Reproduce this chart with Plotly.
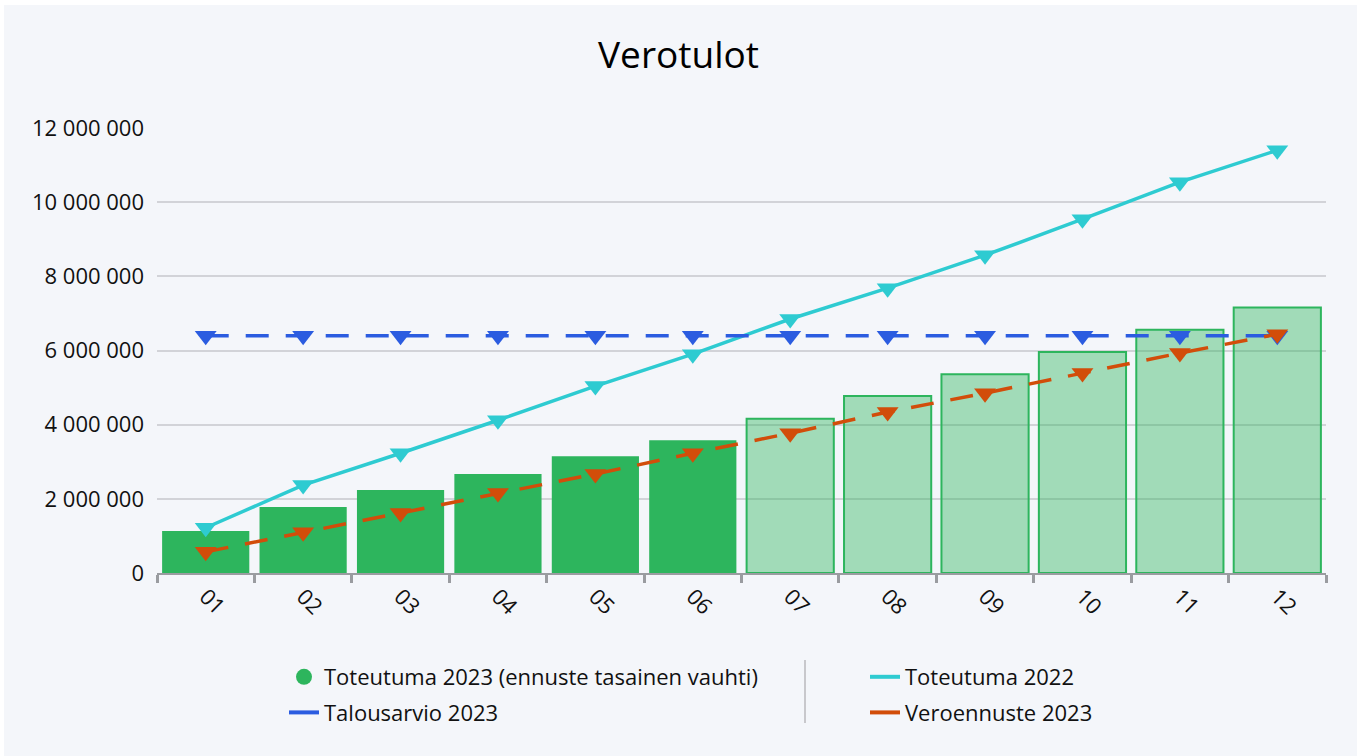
import plotly.graph_objects as go

months = ["01", "02", "03", "04", "05", "06", "07", "08", "09", "10", "11", "12"]
toteutuma_2023 = [1130000, 1780000, 2240000, 2670000, 3150000, 3580000,
                  4160000, 4770000, 5360000, 5960000, 6560000, 7160000]
toteutuma_2022 = [1220000, 2370000, 3230000, 4120000, 5040000, 5900000,
                  6850000, 7680000, 8570000, 9540000, 10540000, 11400000]
talousarvio_2023 = [6400000] * 12
veroennuste_2023 = [570000, 1100000, 1620000, 2160000, 2670000, 3230000,
                    3770000, 4340000, 4850000, 5390000, 5930000, 6440000]
actual_months = 6  # months 01-06 are actuals, rest forecast

GREEN = "#2db55d"
GREEN_LIGHT = "rgba(45,181,93,0.42)"
CYAN = "#2ecbd1"
BLUE = "#2b5ce0"
ORANGE = "#d24d0a"
BG = "#f4f6fa"
FONT = "Open Sans"

# plot area in pixels
W, H = 1357, 756
L, R, T, B = 157, 1326, 128, 573
pw, ph = R - L, B - T

def px_x(x):
    return (x - L) / pw

def px_y(y):
    return (B - y) / ph

bar_colors = [GREEN if i < actual_months else GREEN_LIGHT for i in range(len(months))]
bar_lw = [0 if i < actual_months else 2 for i in range(len(months))]

fig = go.Figure()

fig.add_trace(go.Bar(
    x=months, y=toteutuma_2023, name="Toteutuma 2023 (ennuste tasainen vauhti)",
    marker=dict(color=bar_colors, line=dict(color=GREEN, width=bar_lw)),
    showlegend=False,
))
fig.add_trace(go.Scatter(
    x=months, y=toteutuma_2022, name="Toteutuma 2022", mode="lines+markers",
    line=dict(color=CYAN, width=3.5),
    marker=dict(symbol="triangle-down", size=19, color=CYAN),
    showlegend=False,
))
fig.add_trace(go.Scatter(
    x=months, y=talousarvio_2023, name="Talousarvio 2023", mode="lines+markers",
    line=dict(color=BLUE, width=3.5, dash="23px,17px"),
    marker=dict(symbol="triangle-down", size=19, color=BLUE),
    showlegend=False,
))
fig.add_trace(go.Scatter(
    x=months, y=veroennuste_2023, name="Veroennuste 2023", mode="lines+markers",
    line=dict(color=ORANGE, width=3.5, dash="23px,17px"),
    marker=dict(symbol="triangle-down", size=19, color=ORANGE),
    showlegend=False,
))

# legend entries
fig.add_trace(go.Scatter(
    x=[None], y=[None], mode="markers", name="Toteutuma 2023 (ennuste tasainen vauhti)",
    marker=dict(symbol="circle", size=20, color=GREEN), legend="legend", legendgroup="a",
))
fig.add_trace(go.Scatter(
    x=[None], y=[None], mode="lines", name="Talousarvio 2023",
    line=dict(color=BLUE, width=4), legend="legend", legendgroup="b",
))
fig.add_trace(go.Scatter(
    x=[None], y=[None], mode="lines", name="Toteutuma 2022",
    line=dict(color=CYAN, width=4), legend="legend2", legendgroup="c",
))
fig.add_trace(go.Scatter(
    x=[None], y=[None], mode="lines", name="Veroennuste 2023",
    line=dict(color=ORANGE, width=4), legend="legend2", legendgroup="d",
))

legend_common = dict(
    orientation="v", xanchor="left", yanchor="top",
    font=dict(family=FONT, size=22, color="#111"),
    bgcolor="rgba(0,0,0,0)", traceorder="grouped", tracegroupgap=4,
    itemclick=False, itemwidth=30,
)

fig.update_layout(
    width=W, height=H,
    margin=dict(l=L, r=W - R, t=T, b=H - B, pad=0),
    paper_bgcolor="white",
    plot_bgcolor="rgba(0,0,0,0)",
    font=dict(family=FONT, size=22, color="#111"),
    separators=", ",
    title=dict(text="Verotulot", x=0.5, xanchor="center", y=1 - 55 / H, yanchor="middle",
               font=dict(family=FONT, size=37, color="#000")),
    bargap=0.105,
    xaxis=dict(
        type="category", range=[-0.5, 11.5], tickangle=45, tickson="boundaries",
        ticks="outside", ticklen=8, tickwidth=3, tickcolor="#9a9ca0",
        showline=True, linecolor="#9a9ca0", linewidth=2,
        showgrid=False, tickfont=dict(family=FONT, size=22, color="#111"),
        fixedrange=True,
    ),
    yaxis=dict(
        range=[0, 12000000], tickvals=[0, 2000000, 4000000, 6000000, 8000000, 10000000, 12000000],
        tickformat=",d", showgrid=True, gridcolor="#d2d3d8", gridwidth=1.5,
        zeroline=False, showline=False, ticks="", ticklabelstandoff=12,
        tickfont=dict(family=FONT, size=22, color="#111"), fixedrange=True,
    ),
    legend=dict(x=px_x(284), y=px_y(656), **legend_common),
    legend2=dict(x=px_x(865), y=px_y(656), **legend_common),
    shapes=[
        dict(type="rect", xref="paper", yref="paper", layer="below",
             x0=px_x(4), x1=px_x(1357), y0=px_y(756), y1=px_y(5),
             fillcolor=BG, line=dict(width=0)),
        dict(type="line", xref="paper", yref="paper",
             x0=px_x(805), x1=px_x(805), y0=px_y(660), y1=px_y(723),
             line=dict(color="#c8c8cc", width=2)),
    ],
)

fig.write_html("out.html", config={"displayModeBar": False},
               post_script="document.body.style.margin='0';")
